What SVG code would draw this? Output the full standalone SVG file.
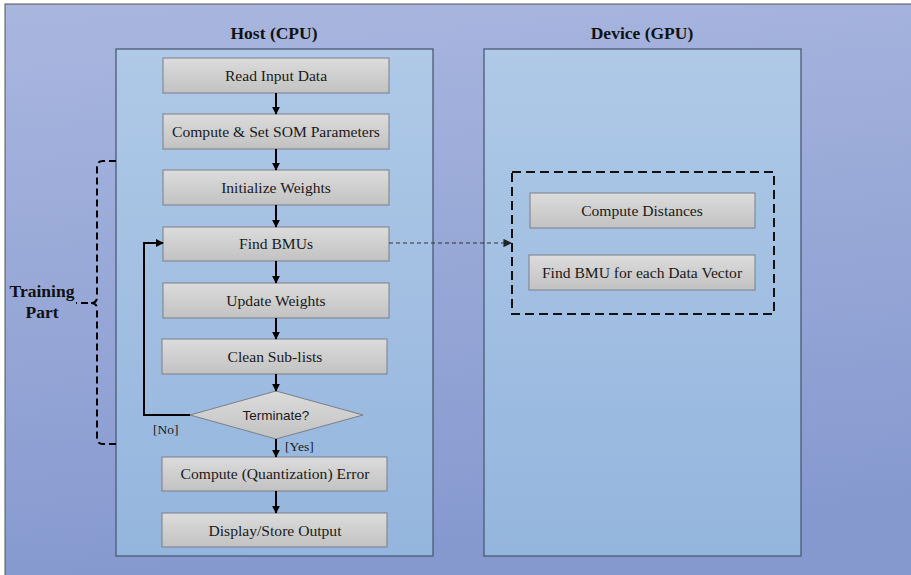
<svg xmlns="http://www.w3.org/2000/svg" width="911" height="575" viewBox="0 0 911 575">
<style>
.title{font-family:"Liberation Serif",serif;font-weight:bold;font-size:17.5px;fill:#111;text-anchor:middle}
.lbl{font-family:"Liberation Serif",serif;font-size:15.6px;fill:#1a1a1a;text-anchor:middle}
.small{font-family:"Liberation Serif",serif;font-size:13.5px;fill:#1a1a1a}
.sans{font-family:"Liberation Sans",sans-serif;font-size:13.5px;fill:#1a1a1a;text-anchor:middle}
.box{fill:url(#gBox);stroke:#7a7f88;stroke-width:1}
.panel{fill:url(#gPanel);stroke:#4d5a75;stroke-width:1.3}
.arr{stroke:#000;stroke-width:2;fill:none;marker-end:url(#ah)}
</style>
<defs>
<linearGradient id="gBg" x1="0" y1="0" x2="0.15" y2="1">
<stop offset="0" stop-color="#a9b7df"/><stop offset="1" stop-color="#8699cf"/>
</linearGradient>
<linearGradient id="gPanel" x1="0" y1="0" x2="0" y2="1">
<stop offset="0" stop-color="#afc9e7"/><stop offset="1" stop-color="#94b5dd"/>
</linearGradient>
<linearGradient id="gBox" x1="0" y1="0" x2="0" y2="1">
<stop offset="0" stop-color="#dcdcdc"/><stop offset="1" stop-color="#c2c2c2"/>
</linearGradient>
<marker id="ah" viewBox="0 0 10 10" refX="9" refY="5" markerWidth="4" markerHeight="4" orient="auto" markerUnits="strokeWidth">
<path d="M0,0 L10,5 L0,10 z" fill="#000"/>
</marker>
<marker id="ah2" viewBox="0 0 10 10" refX="9" refY="5" markerWidth="7" markerHeight="7" orient="auto" markerUnits="strokeWidth">
<path d="M0,0 L10,5 L0,10 z" fill="#222"/>
</marker>
</defs>
<rect x="5" y="4" width="910" height="575" fill="url(#gBg)" stroke="#555" stroke-width="1"/>

<g id="host">
<rect class="panel" x="116" y="49" width="317" height="507"/>
<text class="title" x="274" y="39">Host (CPU)</text>
</g>
<g id="device">
<rect class="panel" x="484" y="49" width="317" height="507"/>
<text class="title" x="642" y="39">Device (GPU)</text>
</g>

<g id="read"><rect class="box" x="163" y="58" width="226" height="35"/><text class="lbl" x="276" y="81">Read Input Data</text></g>
<g id="params"><rect class="box" x="163" y="114" width="226" height="35"/><text class="lbl" x="276" y="137">Compute &amp; Set SOM Parameters</text></g>
<g id="init"><rect class="box" x="163" y="170" width="226" height="35"/><text class="lbl" x="276" y="193">Initialize Weights</text></g>
<g id="find"><rect class="box" x="163" y="227" width="226" height="34"/><text class="lbl" x="276" y="249">Find BMUs</text></g>
<g id="update"><rect class="box" x="163" y="283" width="226" height="35"/><text class="lbl" x="276" y="306">Update Weights</text></g>
<g id="clean"><rect class="box" x="162" y="339" width="225" height="35"/><text class="lbl" x="275" y="362">Clean Sub-lists</text></g>
<g id="terminate"><polygon class="box" points="276,391 363,415 276,439 190,415"/><text class="sans" x="276" y="420">Terminate?</text></g>
<g id="error"><rect class="box" x="162" y="457" width="225" height="34"/><text class="lbl" x="275" y="479">Compute (Quantization) Error</text></g>
<g id="output"><rect class="box" x="162" y="513" width="225" height="34"/><text class="lbl" x="275" y="536">Display/Store Output</text></g>

<g id="gpu-kernel">
<rect x="512" y="172" width="262" height="142" fill="none" stroke="#111" stroke-width="2" stroke-dasharray="9,5"/>
</g>
<g id="distances"><rect class="box" x="530" y="193" width="225" height="35"/><text class="lbl" x="642" y="216">Compute Distances</text></g>
<g id="findbmu"><rect class="box" x="529" y="255" width="226" height="35"/><text class="lbl" x="642" y="278">Find BMU for each Data Vector</text></g>

<g id="training">
<path d="M116,161 L103,161 Q97,161 97,167 L97,297 Q97,303 91,303 L76,303 M91,303 Q97,303 97,309 L97,438 Q97,444 103,444 L116,444" fill="none" stroke="#000" stroke-width="2" stroke-dasharray="7,4"/>
<text class="title" x="42" y="297">Training</text>
<text class="title" x="42" y="318">Part</text>
</g>

<g id="connectors">
<line class="arr" x1="276" y1="93" x2="276" y2="114"/>
<line class="arr" x1="276" y1="149" x2="276" y2="170"/>
<line class="arr" x1="276" y1="205" x2="276" y2="227"/>
<line class="arr" x1="276" y1="261" x2="276" y2="283"/>
<line class="arr" x1="276" y1="318" x2="276" y2="339"/>
<line class="arr" x1="276" y1="374" x2="276" y2="391"/>
<line class="arr" x1="276" y1="439" x2="276" y2="457"/>
<line class="arr" x1="276" y1="491" x2="276" y2="513"/>
<polyline class="arr" points="190,415 144,415 144,243 163,243"/>
<line x1="389" y1="243" x2="511" y2="243" stroke="#333" stroke-width="1.2" stroke-dasharray="4,3" marker-end="url(#ah2)"/>
<text class="small" x="153" y="434">[No]</text>
<text class="small" x="285" y="451">[Yes]</text>
</g>
</svg>
